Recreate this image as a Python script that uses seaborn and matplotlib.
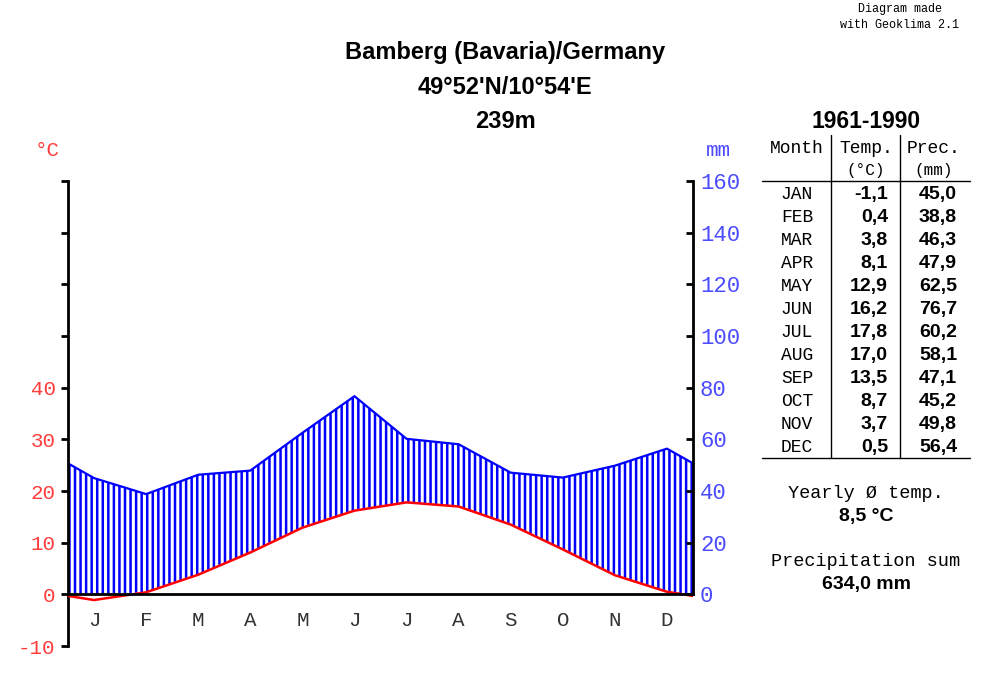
import matplotlib
matplotlib.use("Agg")
import matplotlib.pyplot as plt
import seaborn as sns
import numpy as np

# climate data Bamberg 1961-1990
months = ["JAN", "FEB", "MAR", "APR", "MAY", "JUN", "JUL", "AUG", "SEP", "OCT", "NOV", "DEC"]
month_letters = ["J", "F", "M", "A", "M", "J", "J", "A", "S", "O", "N", "D"]
temp = np.array([-1.1, 0.4, 3.8, 8.1, 12.9, 16.2, 17.8, 17.0, 13.5, 8.7, 3.7, 0.5])
prec = np.array([45.0, 38.8, 46.3, 47.9, 62.5, 76.7, 60.2, 58.1, 47.1, 45.2, 49.8, 56.4])
temp_ticks = [-10, 0, 10, 20, 30, 40]
prec_ticks = [0, 20, 40, 60, 80, 100, 120, 140, 160]

sns.set_style("white")
plt.rcParams["text.color"] = "black"
plt.rcParams["axes.edgecolor"] = "black"
plt.rcParams["xtick.color"] = "black"
plt.rcParams["ytick.color"] = "black"
mono = "Liberation Mono"
sans = "Liberation Sans"
RED = "#ff0000"
BLUE = "#0000ff"
RED_TXT = "#ff3b3b"
BLUE_TXT = "#4b4bff"

# month centres plus the year edges (mean of Dec/Jan wraps around)
x = np.concatenate([[0], np.arange(12) + 0.5, [12]])
edge_t = (temp[0] + temp[-1]) / 2
edge_p = (prec[0] + prec[-1]) / 2
t_ext = np.concatenate([[edge_t], temp, [edge_t]])
p_ext = np.concatenate([[edge_p], prec, [edge_p]]) / 2  # 20 mm = 10 degC

fig = plt.figure(figsize=(10, 6.85), dpi=100)
ax = fig.add_axes([0.068, 0.0569, 0.625, 0.6789])
ax.set_xlim(0, 12)
ax.set_ylim(-10, 80)

plt.rcParams["hatch.linewidth"] = 1.8
plt.rcParams["hatch.color"] = BLUE
ax.fill_between(x, np.maximum(t_ext, 0), p_ext, facecolor="none",
                edgecolor=BLUE, hatch="|||", linewidth=0)
sns.lineplot(x=x, y=p_ext, ax=ax, color=BLUE, linewidth=1.6)
sns.lineplot(x=x, y=t_ext, ax=ax, color=RED, linewidth=1.8, zorder=4)

# spines
for s in ["top", "right"]:
    ax.spines[s].set_visible(False)
ax.spines["left"].set_bounds(-10, 80)
ax.spines["left"].set_linewidth(2)
ax.spines["bottom"].set_position(("data", 0))
ax.spines["bottom"].set_linewidth(2)
ax.spines["bottom"].set_zorder(5)

ax.set_yticks(range(-10, 90, 10))
ax.set_yticklabels([str(v) if v in temp_ticks else "" for v in range(-10, 90, 10)])
ax.tick_params(axis="y", direction="out", length=5, width=2, pad=4,
               labelsize=15, labelcolor=RED_TXT)
for lab in ax.get_yticklabels():
    lab.set_fontfamily(mono)

ax.set_xticks(range(1, 13))
ax.set_xticklabels([])
ax.tick_params(axis="x", which="major", direction="out", length=7, width=2)
ax.set_xticks(np.arange(12) + 0.5, minor=True)
ax.set_xticklabels(month_letters, minor=True, fontfamily=mono, fontsize=15, color="#333333")
ax.tick_params(axis="x", which="minor", length=0, pad=12)

ax2 = ax.twinx()
ax2.set_ylim(-20, 160)
for s in ["top", "left", "bottom"]:
    ax2.spines[s].set_visible(False)
ax2.spines["right"].set_bounds(0, 160)
ax2.spines["right"].set_linewidth(2)
ax2.set_yticks(prec_ticks)
ax2.set_yticklabels([str(v) for v in prec_ticks], fontfamily=mono)
ax2.tick_params(axis="y", direction="in", length=5, width=2, pad=5,
                labelsize=16, labelcolor=BLUE_TXT)

fig.text(0.047, 1 - 150 / 685, "°C", color=RED_TXT, fontfamily=mono, fontsize=15,
         ha="center", va="center")
fig.text(0.718, 1 - 150 / 685, "mm", color=BLUE_TXT, fontfamily=mono, fontsize=15,
         ha="center", va="center")

# titles
for txt, yp in [("Bamberg (Bavaria)/Germany", 53), ("49°52'N/10°54'E", 87), ("239m", 121)]:
    fig.text(0.505, 1 - yp / 685, txt, fontfamily=sans, fontweight="bold", fontsize=17,
             ha="center", va="center")
fig.text(0.866, 1 - 121 / 685, "1961-1990", fontfamily=sans, fontweight="bold",
         fontsize=16.5, ha="center", va="center")
fig.text(0.90, 1 - 9 / 685, "Diagram made", fontfamily=mono, fontsize=8.5, ha="center", va="center")
fig.text(0.90, 1 - 25 / 685, "with Geoklima 2.1", fontfamily=mono, fontsize=8.5, ha="center", va="center")

# table (all cells share a baseline so mono and sans line up)
def fy(py):
    return 1 - py / 685

fig.text(0.797, fy(153), "Month", fontfamily=mono, fontsize=13, ha="center", va="baseline")
fig.text(0.866, fy(153), "Temp.", fontfamily=mono, fontsize=13, ha="center", va="baseline")
fig.text(0.934, fy(153), "Prec.", fontfamily=mono, fontsize=13, ha="center", va="baseline")
fig.text(0.866, fy(175), "(°C)", fontfamily=mono, fontsize=11.5, ha="center", va="baseline")
fig.text(0.934, fy(175), "(mm)", fontfamily=mono, fontsize=11.5, ha="center", va="baseline")
for i, m in enumerate(months):
    yy = fy(199 + i * 23)
    fig.text(0.797, yy, m, fontfamily=mono, fontsize=13, ha="center", va="baseline")
    fig.text(0.888, yy, f"{temp[i]:.1f}".replace(".", ","), fontfamily=sans,
             fontweight="bold", fontsize=14, ha="right", va="baseline")
    fig.text(0.957, yy, f"{prec[i]:.1f}".replace(".", ","), fontfamily=sans,
             fontweight="bold", fontsize=14, ha="right", va="baseline")
fig.add_artist(plt.Line2D([0.831, 0.831], [fy(135), fy(458)], color="black", lw=1))
fig.add_artist(plt.Line2D([0.900, 0.900], [fy(135), fy(458)], color="black", lw=1))
fig.add_artist(plt.Line2D([0.762, 0.970], [fy(181), fy(181)], color="black", lw=1))
fig.add_artist(plt.Line2D([0.762, 0.970], [fy(458), fy(458)], color="black", lw=1))

fig.text(0.866, fy(498), "Yearly Ø temp.", fontfamily=mono, fontsize=13.3, ha="center", va="baseline")
fig.text(0.866, fy(521), f"{temp.mean():.1f} °C".replace(".", ","), fontfamily=sans,
         fontweight="bold", fontsize=14, ha="center", va="baseline")
fig.text(0.866, fy(566), "Precipitation sum", fontfamily=mono, fontsize=13.3, ha="center", va="baseline")
fig.text(0.866, fy(589), f"{prec.sum():.1f} mm".replace(".", ","), fontfamily=sans,
         fontweight="bold", fontsize=14, ha="center", va="baseline")

fig.savefig("out.png", dpi=100)
